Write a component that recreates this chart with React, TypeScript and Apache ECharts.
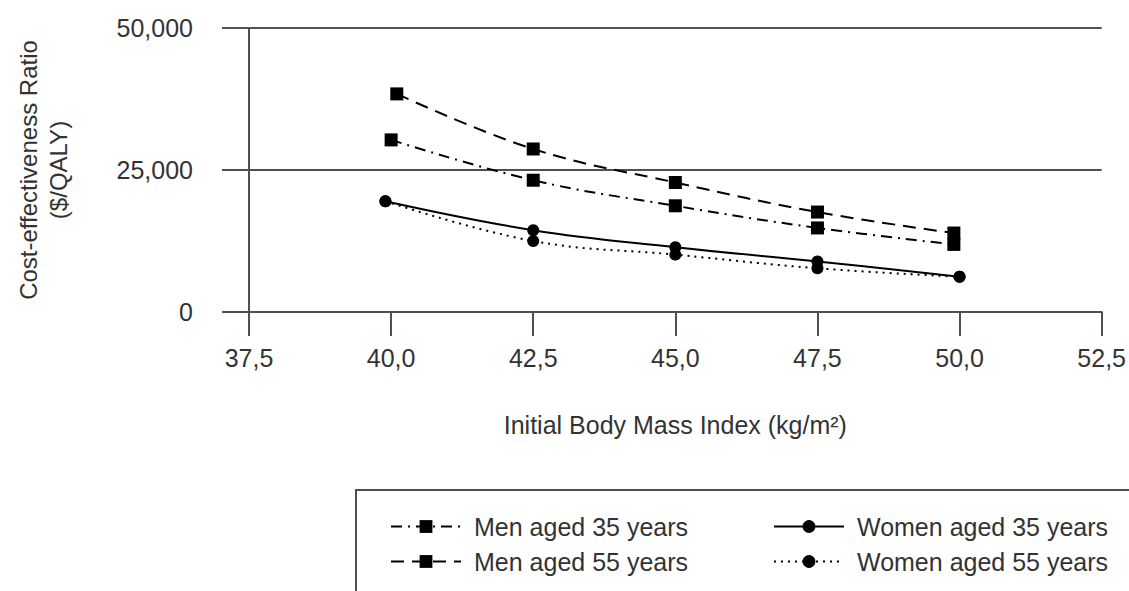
import React, { useEffect, useRef } from "react";
import * as echarts from "echarts";

const seriesNames = [
  "Men aged 35 years",
  "Men aged 55 years",
  "Women aged 35 years",
  "Women aged 55 years",
];

const men35X = [40.0, 42.5, 45.0, 47.5, 49.9];
const men35Y = [30300, 23200, 18700, 14800, 11900];

const men55X = [40.1, 42.5, 45.0, 47.5, 49.9];
const men55Y = [38400, 28700, 22800, 17600, 13900];

const women35X = [39.9, 42.5, 45.0, 47.5, 50.0];
const women35Y = [19500, 14400, 11400, 8900, 6200];

const women55X = [39.9, 42.5, 45.0, 47.5, 50.0];
const women55Y = [19500, 12500, 10100, 7700, 6200];

const xTicks = { min: 37.5, max: 52.5, interval: 2.5 };
const yTicks = { min: 0, max: 50000, interval: 25000 };

const zip = (xs: number[], ys: number[]) => xs.map((x, i) => [x, ys[i]]);

const AXIS = "#505050";
const TEXT = "#333333";
const FONT = "'Liberation Sans', Arial, sans-serif";

export default function App() {
  const ref = useRef<HTMLDivElement>(null);
  useEffect(() => {
    if (!ref.current) return;
    const chart = echarts.init(ref.current, undefined, { renderer: "svg" });
    const legendPos = [
      { left: 390, top: 514 },
      { left: 390, top: 549 },
      { left: 773, top: 514 },
      { left: 773, top: 549 },
    ];
    chart.setOption({
      animation: false,
      backgroundColor: "#ffffff",
      textStyle: { fontFamily: FONT },
      grid: { left: 249, right: 26, top: 28, bottom: 279, containLabel: false },
      xAxis: {
        type: "value",
        min: xTicks.min,
        max: xTicks.max,
        interval: xTicks.interval,
        name: "Initial Body Mass Index (kg/m²)",
        nameLocation: "middle",
        nameGap: 100,
        nameTextStyle: { fontSize: 25, color: TEXT, fontFamily: FONT },
        axisLine: { show: true, onZero: false, lineStyle: { color: AXIS, width: 2 } },
        axisTick: { show: true, inside: false, length: 24, lineStyle: { color: AXIS, width: 2 } },
        axisLabel: {
          fontSize: 25,
          color: TEXT,
          margin: 33,
          fontFamily: FONT,
          formatter: (v: number) => v.toFixed(1).replace(".", ","),
        },
        splitLine: { show: false },
      },
      yAxis: {
        type: "value",
        min: yTicks.min,
        max: yTicks.max,
        interval: yTicks.interval,
        name: "Cost-effectiveness Ratio\n($/QALY)",
        nameLocation: "middle",
        nameGap: 176,
        nameTextStyle: { fontSize: 24, color: TEXT, lineHeight: 30, fontFamily: FONT },
        axisLine: { show: true, lineStyle: { color: AXIS, width: 2 } },
        axisTick: { show: true, inside: false, length: 27, lineStyle: { color: AXIS, width: 2 } },
        axisLabel: {
          fontSize: 25,
          color: TEXT,
          margin: 56,
          fontFamily: FONT,
          formatter: (v: number) => v.toLocaleString("en-US"),
        },
        splitLine: { show: true, lineStyle: { color: AXIS, width: 2 } },
      },
      legend: seriesNames.map((n, i) => ({
        data: [n],
        left: legendPos[i].left,
        top: legendPos[i].top,
        itemWidth: 70,
        itemHeight: 16,
        padding: 0,
        textStyle: { fontSize: 25, color: TEXT, padding: [0, 0, 0, 8], fontFamily: FONT },
      })),
      graphic: [
        {
          type: "rect",
          shape: { x: 356, y: 490, width: 800, height: 130 },
          style: { fill: "none", stroke: AXIS, lineWidth: 2 },
          silent: true,
        },
      ],
      series: [
        {
          name: seriesNames[0],
          type: "line",
          data: zip(men35X, men35Y),
          smooth: 0.4,
          symbol: "rect",
          symbolSize: 13,
          itemStyle: { color: "#000" },
          lineStyle: { color: "#000", width: 2, type: [11, 6, 2, 6] },
        },
        {
          name: seriesNames[1],
          type: "line",
          data: zip(men55X, men55Y),
          smooth: 0.4,
          symbol: "rect",
          symbolSize: 13,
          itemStyle: { color: "#000" },
          lineStyle: { color: "#000", width: 2, type: [13, 8] },
        },
        {
          name: seriesNames[2],
          type: "line",
          data: zip(women35X, women35Y),
          smooth: 0.4,
          symbol: "circle",
          symbolSize: 12,
          itemStyle: { color: "#000" },
          lineStyle: { color: "#000", width: 2, type: "solid" },
        },
        {
          name: seriesNames[3],
          type: "line",
          data: zip(women55X, women55Y),
          smooth: 0.4,
          symbol: "circle",
          symbolSize: 12,
          itemStyle: { color: "#000" },
          lineStyle: { color: "#000", width: 2, type: [2, 5] },
        },
      ],
    });
    return () => chart.dispose();
  }, []);
  return (
    <div
      ref={ref}
      style={{ position: "fixed", left: 0, top: 0, width: 1129, height: 591, background: "#fff" }}
    />
  );
}
